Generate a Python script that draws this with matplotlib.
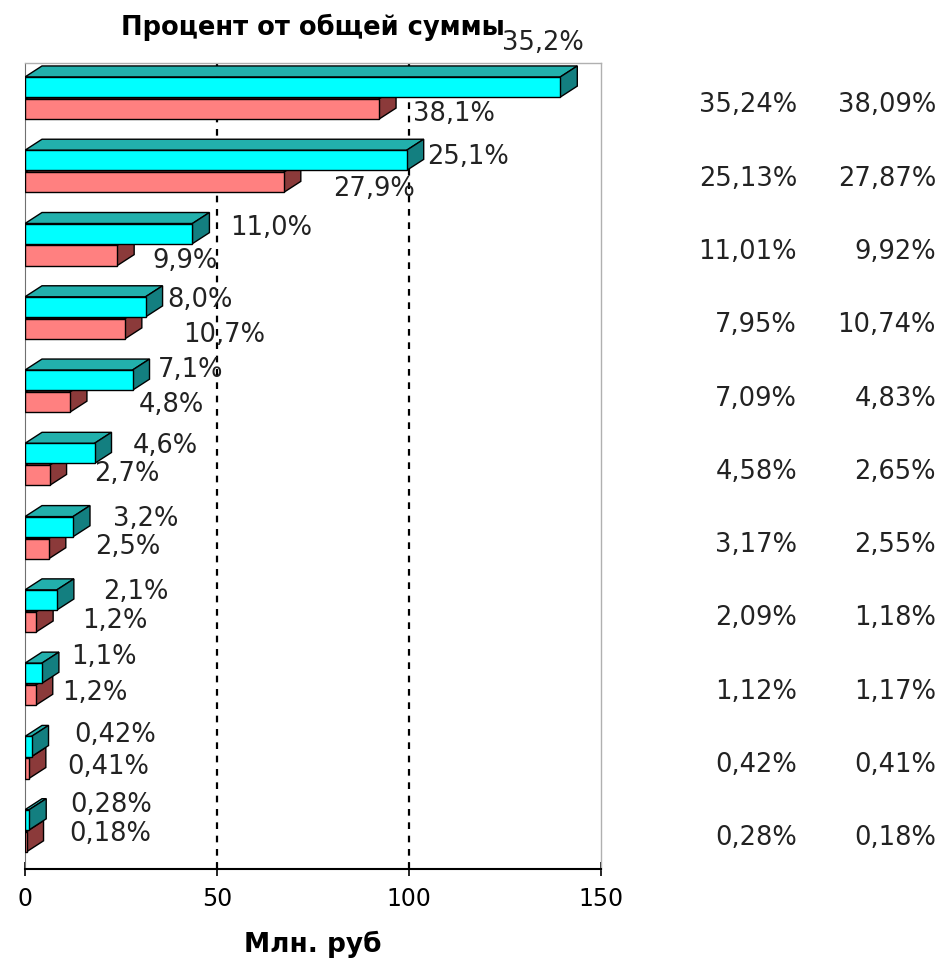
import matplotlib
matplotlib.use("Agg")
import matplotlib.pyplot as plt
from matplotlib.patches import Polygon
from matplotlib.transforms import blended_transform_factory

# values in Млн. руб, top group first
cyan_vals = [139.4, 99.4, 43.6, 31.4, 28.0, 18.1, 12.5, 8.3, 4.4, 1.7, 1.1]
red_vals = [92.2, 67.4, 24.0, 26.0, 11.7, 6.4, 6.2, 2.9, 2.8, 1.0, 0.4]

cyan_labels = ['35,2%', '25,1%', '11,0%', '8,0%', '7,1%', '4,6%', '3,2%', '2,1%', '1,1%', '0,42%', '0,28%']
red_labels = ['38,1%', '27,9%', '9,9%', '10,7%', '4,8%', '2,7%', '2,5%', '1,2%', '1,2%', '0,41%', '0,18%']

cyan_pct = ['35,24%', '25,13%', '11,01%', '7,95%', '7,09%', '4,58%', '3,17%', '2,09%', '1,12%', '0,42%', '0,28%']
red_pct = ['38,09%', '27,87%', '9,92%', '10,74%', '4,83%', '2,65%', '2,55%', '1,18%', '1,17%', '0,41%', '0,18%']

xticks = [0, 50, 100, 150]

# label placement (pixels from the front end of each bar / from the slot centre)
cyan_off_x = [23, 20, 38, 22, 25, 38, 40, 46, 29, 43, 41]
cyan_off_y = [-57, -16, -18, -19, -23, -20, -20, -21, -29, -24, -27]
red_off_x = [34, 49, 35, 58, 69, 45, 46, 46, 26, 38, 43]
red_off_y = [14, 16, 15, 16, 12, 8, 8, 8, 7, 8, 2]

W, H = 942, 967
fig = plt.figure(figsize=(W / 100, H / 100), dpi=100)
left, right, top, bottom = 25, 601, 63, 869
ax = fig.add_axes([left / W, 1 - bottom / H, (right - left) / W, (bottom - top) / H])

n = len(cyan_vals)
ax.set_xlim(0, 150)
ax.set_ylim(n - 0.5, -0.5)

# depth of the fake 3d faces, converted from pixels to data units
dx = 17 / ((right - left) / 150)
dy = 11 / ((bottom - top) / n)

bh = 0.275
cy = [i - 0.172 for i in range(n)]
ry = [i + 0.128 for i in range(n)]


def faces(x1, yc, top_col, side_col, z):
    yt, yb = yc - bh / 2, yc + bh / 2
    topf = Polygon([(0, yt), (dx, yt - dy), (x1 + dx, yt - dy), (x1, yt)],
                   closed=True, fc=top_col, ec='black', lw=1, zorder=z)
    side = Polygon([(x1, yt), (x1 + dx, yt - dy), (x1 + dx, yb - dy), (x1, yb)],
                   closed=True, fc=side_col, ec='black', lw=1, zorder=z)
    ax.add_patch(topf)
    ax.add_patch(side)


for i in range(n):
    faces(red_vals[i], ry[i], '#a04848', '#8b3a3a', 3)
    faces(cyan_vals[i], cy[i], '#22b0ac', '#137f80', 5)

ax.barh(ry, red_vals, height=bh, color='#ff8080', edgecolor='black', lw=1, zorder=4)
ax.barh(cy, cyan_vals, height=bh, color='#00ffff', edgecolor='black', lw=1, zorder=6)

# dashed gridlines
for g in [50, 100]:
    ax.axvline(g, color='black', lw=1.6, ls=(0, (3, 3)), zorder=1)

# bar labels
for i in range(n):
    ha = 'right' if i == 0 else 'left'
    ax.annotate(cyan_labels[i], (cyan_vals[i], i), xytext=(cyan_off_x[i], -cyan_off_y[i]),
                textcoords='offset pixels', ha=ha, va='center', fontsize=18.5,
                color='#222222', zorder=8)
    ax.annotate(red_labels[i], (red_vals[i], i), xytext=(red_off_x[i], -red_off_y[i]),
                textcoords='offset pixels', ha='left', va='center', fontsize=18.5,
                color='#222222', zorder=8)

# table of shares on the right
tr = blended_transform_factory(fig.transFigure, ax.transData)
for i in range(n):
    ax.text(797 / W, i + 0.08, cyan_pct[i], transform=tr, ha='right', va='center',
            fontsize=18.5, color='#222222', clip_on=False)
    ax.text(936 / W, i + 0.08, red_pct[i], transform=tr, ha='right', va='center',
            fontsize=18.5, color='#222222', clip_on=False)

ax.set_xticks(xticks)
ax.set_xticklabels([str(t) for t in xticks])
ax.set_yticks([])
ax.tick_params(axis='x', direction='inout', length=10, width=1.2, pad=8, labelsize=17)
for s in ['top', 'right']:
    ax.spines[s].set_color('#b0b0b0')
    ax.spines[s].set_linewidth(1)
ax.spines['left'].set_color('#707070')
ax.spines['bottom'].set_linewidth(1.5)

ax.set_title('Процент от общей суммы', fontsize=18.5, fontweight='bold', pad=20)
ax.set_xlabel('Млн. руб', fontsize=19, fontweight='bold', labelpad=14)

fig.savefig('out.png', dpi=100)
